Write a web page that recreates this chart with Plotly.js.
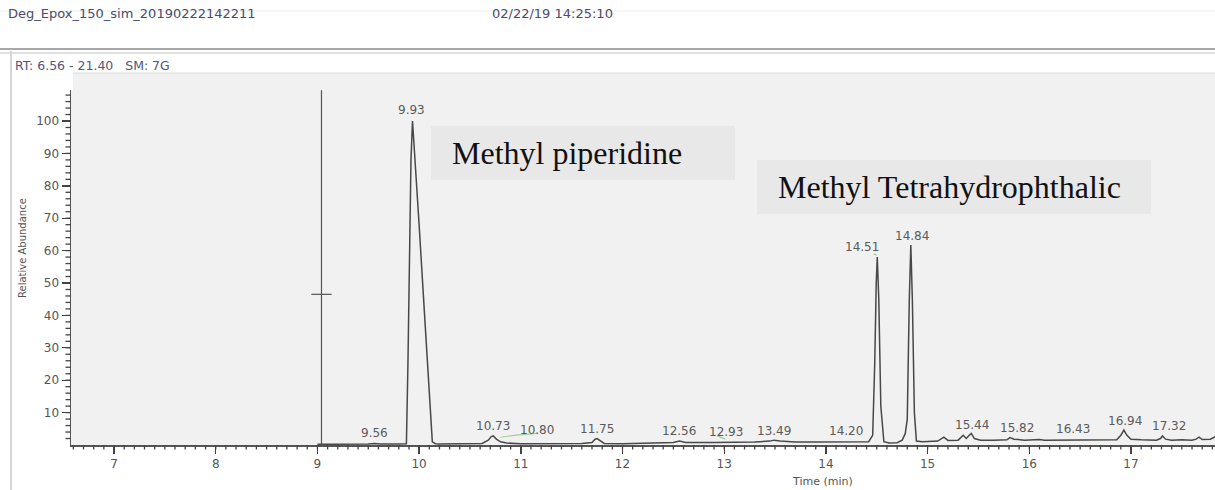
<!DOCTYPE html>
<html>
<head>
<meta charset="utf-8">
<script src="https://cdn.plot.ly/plotly-3.0.1.min.js"></script>
<style>html,body{margin:0;padding:0;background:#fff;}#chart{width:1215px;height:490px;}</style>
</head>
<body>
<div id="chart"></div>
<script>
// ---- data ----
const timeMin = [9.00, 9.30, 9.50, 9.56, 9.62, 9.80, 9.875, 9.89, 9.905, 9.92, 9.935, 9.95, 10.00, 10.05, 10.10, 10.13, 10.16,
  10.20, 10.40, 10.62, 10.68, 10.71, 10.73, 10.76, 10.80, 10.86, 11.00, 11.30, 11.60, 11.70, 11.73, 11.75, 11.78, 11.82,
  12.00, 12.30, 12.50, 12.56, 12.62, 12.90, 13.10, 13.30, 13.45, 13.49, 13.55, 13.70, 13.90, 14.10, 14.20, 14.30,
  14.42, 14.46, 14.48, 14.495, 14.505, 14.52, 14.54, 14.57, 14.62, 14.70, 14.75, 14.78, 14.80, 14.82, 14.835, 14.85,
  14.87, 14.89, 14.95, 15.10, 15.16, 15.20, 15.30, 15.35, 15.38, 15.41, 15.43, 15.46, 15.52, 15.65, 15.78, 15.81,
  15.85, 15.95, 16.05, 16.10, 16.15, 16.30, 16.40, 16.50, 16.70, 16.86, 16.90, 16.93, 16.96, 17.00, 17.10, 17.25,
  17.29, 17.31, 17.34, 17.40, 17.50, 17.60, 17.64, 17.67, 17.70, 17.78, 17.83];
const relAbundance = [0.2, 0.2, 0.3, 0.5, 0.3, 0.3, 0.4, 25, 62, 88, 100, 93, 68, 42, 15, 1.0, 0.4,
  0.3, 0.4, 0.5, 1.5, 2.6, 2.8, 1.8, 1.0, 0.6, 0.4, 0.4, 0.5, 0.8, 1.8, 2.0, 1.4, 0.5,
  0.4, 0.7, 0.8, 1.2, 0.8, 0.8, 0.8, 0.9, 1.2, 1.5, 1.2, 0.9, 0.9, 1.0, 1.1, 1.0,
  1.0, 3, 25, 50, 58, 45, 12, 1.0, 0.6, 0.7, 1.5, 3.5, 8, 45, 61.7, 45,
  10, 1.2, 1.0, 1.2, 2.4, 1.4, 1.5, 3.0, 2.0, 3.0, 3.6, 2.0, 1.5, 1.5, 1.6, 2.3,
  1.8, 1.5, 1.6, 1.7, 1.5, 1.5, 1.7, 1.6, 1.5, 1.6, 3.0, 4.6, 3.0, 1.8, 1.6, 1.5,
  2.0, 2.8, 1.8, 1.5, 1.6, 1.5, 1.8, 2.4, 1.7, 1.8, 2.6];

// integration baselines (green)
const integ1Time = [10.80, 10.98, 11.16];
const integ1Abund = [2.4, 3.1, 3.6];
const integ2Time = [12.93, 13.01];
const integ2Abund = [2.8, 1.8];
const integ3Time = [14.47, 14.50];
const integ3Abund = [59.0, 58.6];

// cursor
const cursorTime = [9.04, 9.04];
const cursorAbund = [0, 109.5];
const crossTime = [8.94, 9.14];
const crossAbund = [46.5, 46.5];

// peak labels
const peakLabelText = ['9.56', '9.93', '10.73', '10.80', '11.75', '12.56', '12.93', '13.49', '14.20', '14.51', '14.84', '15.44', '15.82', '16.43', '16.94', '17.32'];
const peakLabelTime = [9.56, 9.93, 10.73, 11.156, 11.75, 12.56, 13.018, 13.49, 14.20, 14.355, 14.843, 15.44, 15.879, 16.43, 16.94, 17.377];
const peakLabelLevel = [3.8, 103.3, 5.9, 4.6, 4.9, 4.3, 4.0, 4.3, 4.3, 61.2, 64.6, 6.2, 5.2, 4.9, 7.5, 5.9];

// axis ticks
const yTickVals = [10, 20, 30, 40, 50, 60, 70, 80, 90, 100];
const xTickVals = [7, 8, 9, 10, 11, 12, 13, 14, 15, 16, 17];
const xMinorStep = 0.1, yMinorStep = 2, yMinorTop = 108.6;

// texts
const fileName = 'Deg_Epox_150_sim_20190222142211';
const stamp = '02/22/19 14:25:10';
const rtInfo = 'RT: 6.56 - 21.40\u00a0\u00a0 SM: 7G';
const compound1 = 'Methyl piperidine';
const compound2 = 'Methyl Tetrahydrophthalic';
const yTitle = 'Relative Abundance';
const xTitle = 'Time (min)';

// ---- layout helpers (pixel -> paper) ----
const L = 71, T = 90, B = 45, W = 1215, H = 490;
const PW = W - L, PH = H - T - B;
const px = p => (p - L) / PW;
const py = p => (H - B - p) / PH;
const xRange = [6.577, 17.826], yRange = [0, 109.57];
const xFrac = v => (v - xRange[0]) / (xRange[1] - xRange[0]);
const yFrac = v => (v - yRange[0]) / (yRange[1] - yRange[0]);

const lineCol = '#484848';
const traces = [
  {x: timeMin, y: relAbundance, type: 'scatter', mode: 'lines', line: {color: lineCol, width: 1.5}, hoverinfo: 'skip'},
  {x: integ1Time, y: integ1Abund, type: 'scatter', mode: 'lines', line: {color: '#9fd09f', width: 1.2, shape: 'spline'}},
  {x: integ2Time, y: integ2Abund, type: 'scatter', mode: 'lines', line: {color: '#9fd09f', width: 1.2}},
  {x: integ3Time, y: integ3Abund, type: 'scatter', mode: 'lines', line: {color: '#9fd09f', width: 1.2}},
  {x: cursorTime, y: cursorAbund, type: 'scatter', mode: 'lines', line: {color: '#555', width: 1.2}},
  {x: crossTime, y: crossAbund, type: 'scatter', mode: 'lines', line: {color: '#555', width: 1.2}}
];

const font = 'DejaVu Sans, Arial, sans-serif';
const serif = 'Liberation Serif, Times New Roman, serif';
const annotations = [];
function paperText(text, x, y, size, color, opts) {
  annotations.push(Object.assign({text: text, xref: 'paper', yref: 'paper', x: px(x), y: py(y),
    xanchor: 'left', yanchor: 'middle', showarrow: false, font: {family: font, size: size, color: color}}, opts || {}));
}
paperText(fileName, 6, 13, 13, '#4a4a6c');
paperText(stamp, 490, 13, 13, '#4a4a6c');
paperText(rtInfo, 13, 65, 12.5, '#55557a');
paperText(yTitle, 22, 248, 10, '#555', {textangle: -90, xanchor: 'center'});
paperText(xTitle, 822, 481, 11, '#555', {xanchor: 'center'});
paperText(compound1, 450, 153, 32, '#111', {font: {family: serif, size: 32, color: '#111'}});
paperText(compound2, 776, 187, 32, '#111', {font: {family: serif, size: 32, color: '#111'}});

peakLabelText.forEach((t, i) => {
  annotations.push({text: t, x: peakLabelTime[i], y: peakLabelLevel[i], xref: 'x', yref: 'y',
    xanchor: 'center', yanchor: 'middle', showarrow: false, font: {family: font, size: 12, color: '#5a5a5a'}});
});

const shapes = [
  {type: 'line', xref: 'paper', yref: 'paper', x0: px(0), x1: px(W), y0: py(11), y1: py(11), line: {color: '#ececec', width: 1}},
  {type: 'line', xref: 'paper', yref: 'paper', x0: px(0), x1: px(W), y0: py(49), y1: py(49), line: {color: '#a8a8a8', width: 2}},
  {type: 'line', xref: 'paper', yref: 'paper', x0: px(0), x1: px(W), y0: py(53), y1: py(53), line: {color: '#e0e0e0', width: 2}},
  {type: 'line', xref: 'paper', yref: 'paper', x0: px(11), x1: px(11), y0: py(51), y1: py(H), line: {color: '#d6d6d6', width: 2}},
  {type: 'rect', xref: 'paper', yref: 'paper', x0: px(73), x1: px(W), y0: py(73), y1: py(T), fillcolor: '#f1f1f1', line: {width: 0}, layer: 'below'},
  {type: 'line', xref: 'paper', yref: 'paper', x0: px(73), x1: px(W), y0: py(73), y1: py(73), line: {color: '#dcdcdc', width: 1}},
  {type: 'rect', xref: 'paper', yref: 'paper', x0: px(431), x1: px(735), y0: py(126), y1: py(180), fillcolor: '#e8e8e8', line: {width: 0}, layer: 'below'},
  {type: 'rect', xref: 'paper', yref: 'paper', x0: px(757), x1: px(1151), y0: py(160), y1: py(214), fillcolor: '#e8e8e8', line: {width: 0}, layer: 'below'}
];
// minor ticks (axis decoration) drawn in paper space so they are not clipped
for (let k = Math.ceil(xRange[0] / xMinorStep); k * xMinorStep <= xRange[1]; k++) {
  const f = xFrac(k * xMinorStep);
  shapes.push({type: 'line', xref: 'paper', yref: 'paper', x0: f, x1: f, y0: 0, y1: -4.5 / PH,
    line: {color: '#444', width: 1.3}});
}
for (let k = 1; k * yMinorStep <= yMinorTop; k++) {
  const f = yFrac(k * yMinorStep);
  shapes.push({type: 'line', xref: 'paper', yref: 'paper', y0: f, y1: f, x0: 0, x1: -5.5 / PW,
    line: {color: '#444', width: 1.3}});
}

const axisFont = {family: font, size: 12, color: '#555'};
const layout = {
  width: W, height: H,
  margin: {l: L, r: 0, t: T, b: B, pad: 0},
  paper_bgcolor: '#ffffff', plot_bgcolor: '#f1f1f1',
  showlegend: false,
  xaxis: {range: xRange, tickmode: 'array', tickvals: xTickVals, ticks: 'outside', ticklen: 7, tickwidth: 1.4,
    tickcolor: '#444', showline: true, linecolor: '#555', linewidth: 1.5, showgrid: false, zeroline: false, tickfont: axisFont},
  yaxis: {range: yRange, tickmode: 'array', tickvals: yTickVals, ticks: 'outside', ticklen: 8, tickwidth: 1.4,
    tickcolor: '#444', showline: true, linecolor: '#555', linewidth: 1.5, showgrid: false, zeroline: false, tickfont: axisFont},
  annotations: annotations,
  shapes: shapes
};

Plotly.newPlot('chart', traces, layout, {displayModeBar: false, staticPlot: true});
</script>
</body>
</html>
